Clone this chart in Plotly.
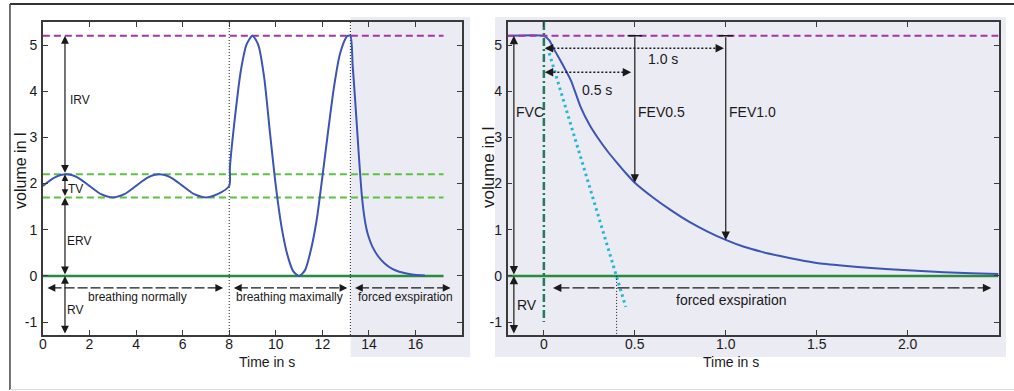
import plotly.graph_objects as go

# ---------------- data ----------------
# Left panel: spirogram, volume in l over time in s
spiro_time = [0.0, 0.5, 1.0, 1.5, 2.0, 2.5, 3.0, 3.5, 4.0, 4.5, 5.0, 5.5, 6.0, 6.5, 7.0, 7.5, 8.0,
              8.03, 8.25, 8.5, 8.75, 9.0, 9.25, 9.5, 9.75, 10.0, 10.25, 10.5, 10.75, 11.0,
              11.25, 11.5, 11.75, 12.0, 12.25, 12.5, 12.75, 13.0, 13.08, 13.2,
              13.3, 13.4, 13.5, 13.6, 13.7, 13.8, 13.9, 14.0, 14.15, 14.4, 14.65, 15.0, 15.3, 15.85, 16.4]
spiro_volume = [1.95, 2.13, 2.2, 2.13, 1.95, 1.77, 1.7, 1.77, 1.95, 2.13, 2.2, 2.13, 1.95, 1.77, 1.7, 1.77, 1.95,
                2.35, 3.45, 4.45, 5.02, 5.2, 5.0, 4.3, 3.1, 1.95, 1.05, 0.45, 0.1, 0.0,
                0.12, 0.55, 1.2, 2.15, 3.15, 4.1, 4.8, 5.15, 5.2, 5.2,
                4.55, 3.85, 3.1, 2.35, 1.7, 1.28, 1.0, 0.82, 0.63, 0.42, 0.28, 0.15, 0.09, 0.03, 0.01]

# Right panel: forced expiration
fe_time = [-0.2, 0.0, 0.03, 0.06, 0.10, 0.15, 0.20, 0.25, 0.30, 0.35, 0.40, 0.45, 0.50, 0.60, 0.70,
           0.80, 0.90, 1.00, 1.10, 1.20, 1.30, 1.40, 1.50, 1.65, 1.80, 2.00, 2.20, 2.35, 2.50]
fe_volume = [5.2, 5.2, 5.1, 4.88, 4.6, 4.22, 3.68, 3.28, 2.97, 2.7, 2.46, 2.23, 2.02, 1.7, 1.42,
             1.17, 0.96, 0.78, 0.63, 0.52, 0.43, 0.35, 0.28, 0.22, 0.17, 0.12, 0.08, 0.06, 0.04]

# tangent (initial slope) of forced expiration
tangent_time = [0.02, 0.45]
tangent_volume = [4.95, -0.67]

# lung volume levels (l)
TLC = 5.2
TIDAL_TOP = 2.2
TIDAL_BOTTOM = 1.7
RV_LEVEL = 0.0
# FEV readings
fev_time = [0.5, 1.0]
fev_volume = [2.02, 0.78]
fev_labels = ["FEV0.5", "FEV1.0"]

# phases (left panel) and labels
phase_spans = [(0.2, 7.74), (8.2, 13.07), (13.4, 17.5)]
phase_labels = ["breathing normally", "breathing maximally", "forced exspiration"]
phase_label_x = [4.06, 10.58, 15.55]
phase_bounds = [8.0, 13.2]

left_xticks = [0, 2, 4, 6, 8, 10, 12, 14, 16]
y_ticks = [-1, 0, 1, 2, 3, 4, 5]
y_ticktext = ["-1", "0", "1", "2", "3", "4", "5"]
right_xticks = [0, 0.5, 1.0, 1.5, 2.0]
right_xticktext = ["0", "0.5", "1.0", "1.5", "2.0"]

# ---------------- style ----------------
FONT = "Liberation Sans, Arial, sans-serif"
BLUE = "#3b54b5"
MAGENTA = "#a436a2"
LGREEN = "#5cc240"
DGREEN = "#2a8a40"
TEAL = "#1f7c5c"
CYAN = "#22b8d4"
SHADE = "#ebebf3"
INK = "#1a1a1a"
AX = "#3a3a3a"

Y_RANGE = [-1.28, 5.5]
L_RANGE = [0, 18]
R_RANGE = [-0.2, 2.5]

fig = go.Figure()


def line(xs, ys, color, width, dash="solid", axis=1, shape="linear", smoothing=1.0):
    fig.add_trace(go.Scatter(
        x=xs, y=ys, mode="lines",
        line=dict(color=color, width=width, dash=dash, shape=shape, smoothing=smoothing),
        xaxis="x" if axis == 1 else "x2", yaxis="y" if axis == 1 else "y2",
        hoverinfo="skip", showlegend=False))


def arrow(axis, x, y, ax, ay, both=False, size=1.4):
    xr = "x" if axis == 1 else "x2"
    yr = "y" if axis == 1 else "y2"
    fig.add_annotation(x=x, y=y, ax=ax, ay=ay, xref=xr, yref=yr, axref=xr, ayref=yr,
                       text="", showarrow=True, arrowhead=2, arrowsize=size, arrowwidth=1.2,
                       arrowcolor=INK, arrowside="end+start" if both else "end",
                       startarrowhead=2, startarrowsize=size, standoff=0, startstandoff=0)


def label(axis, x, y, text, size, anchor="left"):
    fig.add_annotation(x=x, y=y, xref="x" if axis == 1 else "x2", yref="y" if axis == 1 else "y2",
                       text=text, showarrow=False, xanchor=anchor, yanchor="middle",
                       font=dict(family=FONT, size=size, color=INK))


def h_arrow(axis, x0, x1, y, dash, dx, size=1.4):
    line([x0 + dx * 0.5, x1 - dx * 0.5], [y, y], INK, 1.4, dash=dash, axis=axis)
    arrow(axis, x0, y, x0 + dx, y, size=size)
    arrow(axis, x1, y, x1 - dx, y, size=size)


# ---------- left panel ----------
L_END = 17.2
line([0, L_END], [TIDAL_TOP, TIDAL_TOP], LGREEN, 2, dash="7px,4px")
line([0, L_END], [TIDAL_BOTTOM, TIDAL_BOTTOM], LGREEN, 2, dash="7px,4px")
line([0, L_END], [RV_LEVEL, RV_LEVEL], DGREEN, 2.5)
line([0, L_END], [TLC, TLC], MAGENTA, 2, dash="7px,4px")
for xb in phase_bounds:
    line([xb, xb], Y_RANGE, INK, 1, dash="1px,2px")
line(spiro_time, spiro_volume, BLUE, 2, shape="spline", smoothing=0.7)

AX_L = 0.95
arrow(1, AX_L, TLC, AX_L, TIDAL_TOP, both=True, size=1.3)
arrow(1, AX_L, TIDAL_TOP, AX_L, TIDAL_BOTTOM, both=True, size=1.1)
arrow(1, AX_L, TIDAL_BOTTOM, AX_L, RV_LEVEL, both=True, size=1.3)
arrow(1, AX_L, RV_LEVEL, AX_L, Y_RANGE[0], both=True, size=1.3)
label(1, 1.08, 3.8, "IRV", 12)
label(1, 1.0, 1.88, "TV", 12)
label(1, 0.95, 0.76, "ERV", 12)
label(1, 0.97, -0.74, "RV", 12)

for (x0, x1), txt, lx in zip(phase_spans, phase_labels, phase_label_x):
    h_arrow(1, x0, x1, -0.26, "10px,3px", 0.35, size=1.3)
    label(1, lx, -0.45, txt, 12, anchor="center")

# ---------- right panel ----------
line(R_RANGE, [RV_LEVEL, RV_LEVEL], DGREEN, 2.5, axis=2)
line(fe_time, fe_volume, BLUE, 2, axis=2, shape="spline", smoothing=0.5)
line(R_RANGE, [TLC, TLC], MAGENTA, 2, dash="7px,4px", axis=2)
line([0, 0], [Y_RANGE[1], -1.0], TEAL, 2.5, dash="8px,3px,2px,3px", axis=2)
line(tangent_time, tangent_volume, CYAN, 3, dash="2.5px,3.5px", axis=2)
line([0.4, 0.4], [RV_LEVEL, Y_RANGE[0]], INK, 1, dash="1px,2px", axis=2)

AX_R = -0.165
arrow(2, AX_R, TLC, AX_R, RV_LEVEL, both=True)
arrow(2, AX_R, RV_LEVEL, AX_R, Y_RANGE[0], both=True)
label(2, -0.165, 3.54, "FVC", 14)
label(2, -0.16, -0.63, "RV", 14)

for ft, fv, fl in zip(fev_time, fev_volume, fev_labels):
    arrow(2, ft, fv, ft, TLC)
    line([ft - 0.04, ft + 0.04], [TLC, TLC], INK, 1.5, axis=2)
    label(2, ft + 0.005, 3.54, fl, 14)

# timing arrows
h_arrow(2, 0.005, 0.99, 4.93, "2px,2px", 0.05)
h_arrow(2, 0.005, 0.48, 4.41, "2px,2px", 0.05)
label(2, 0.655, 4.7, "1.0 s", 14, anchor="center")
label(2, 0.29, 4.02, "0.5 s", 14, anchor="center")

h_arrow(2, 0.05, 2.46, -0.26, "12px,3px", 0.05)
label(2, 1.03, -0.52, "forced exspiration", 14, anchor="center")

# ---------- axis titles ----------
W, H = 1014, 391


def title(px, py, text, size, angle=0):
    fig.add_annotation(x=px / W, y=(H - py) / H, xref="paper", yref="paper", text=text,
                       textangle=angle, showarrow=False, xanchor="center", yanchor="middle",
                       font=dict(family=FONT, size=size, color=INK))


title(16, 171, "volume in l", 16, -90)
title(487, 168, "volume in l", 17, -90)
title(264, 362, "Time in s", 14)
title(730, 362, "Time in s", 14)

# ---------- shading & frame ----------
fig.add_shape(type="rect", xref="paper", yref="paper", x0=348 / W, x1=468 / W,
              y0=(H - 357) / H, y1=(H - 17) / H, fillcolor=SHADE, line_width=0, layer="below")
fig.add_shape(type="rect", xref="paper", yref="paper", x0=493 / W, x1=1006 / W,
              y0=(H - 357) / H, y1=(H - 17) / H, fillcolor=SHADE, line_width=0, layer="below")
fig.add_shape(type="line", xref="paper", yref="paper", x0=6 / W, x1=1.0, y0=(H - 4) / H, y1=(H - 4) / H,
              line=dict(color="#333333", width=2))
fig.add_shape(type="line", xref="paper", yref="paper", x0=6 / W, x1=6 / W, y0=(H - 4) / H, y1=(H - 390) / H,
              line=dict(color="#444444", width=1.5))
fig.add_shape(type="line", xref="paper", yref="paper", x0=6 / W, x1=1.0, y0=(H - 389.5) / H, y1=(H - 389.5) / H,
              line=dict(color="#dddddd", width=1))

axis_common = dict(showgrid=False, zeroline=False, showline=True, linecolor=AX, linewidth=1.5,
                   mirror="ticks", ticks="inside", ticklen=5, tickcolor=AX, tickwidth=1,
                   tickfont=dict(family=FONT, size=14, color=INK), fixedrange=True)

fig.update_layout(
    width=W, height=H,
    margin=dict(l=0, r=0, t=0, b=0),
    paper_bgcolor="white",
    plot_bgcolor="rgba(0,0,0,0)",
    showlegend=False,
    xaxis=dict(domain=[39 / W, 460 / W], range=L_RANGE, tickmode="array", tickvals=left_xticks,
               anchor="y", ticklabelstandoff=-5, **axis_common),
    yaxis=dict(domain=[(H - 335) / H, (H - 22) / H], range=Y_RANGE, tickmode="array",
               tickvals=y_ticks, ticktext=y_ticktext, anchor="x", ticklabelstandoff=1, **axis_common),
    xaxis2=dict(domain=[505.5 / W, 998.5 / W], range=R_RANGE, tickmode="array", tickvals=right_xticks,
                ticktext=right_xticktext, anchor="y2", ticklabelstandoff=-5, **axis_common),
    yaxis2=dict(domain=[(H - 335) / H, (H - 22) / H], range=Y_RANGE, tickmode="array",
                tickvals=y_ticks, ticktext=y_ticktext, anchor="x2", ticklabelstandoff=1, **axis_common),
)

fig.write_html("out.html", config={"displayModeBar": False},
               post_script="document.body.style.margin='0';document.body.style.overflow='hidden';")
